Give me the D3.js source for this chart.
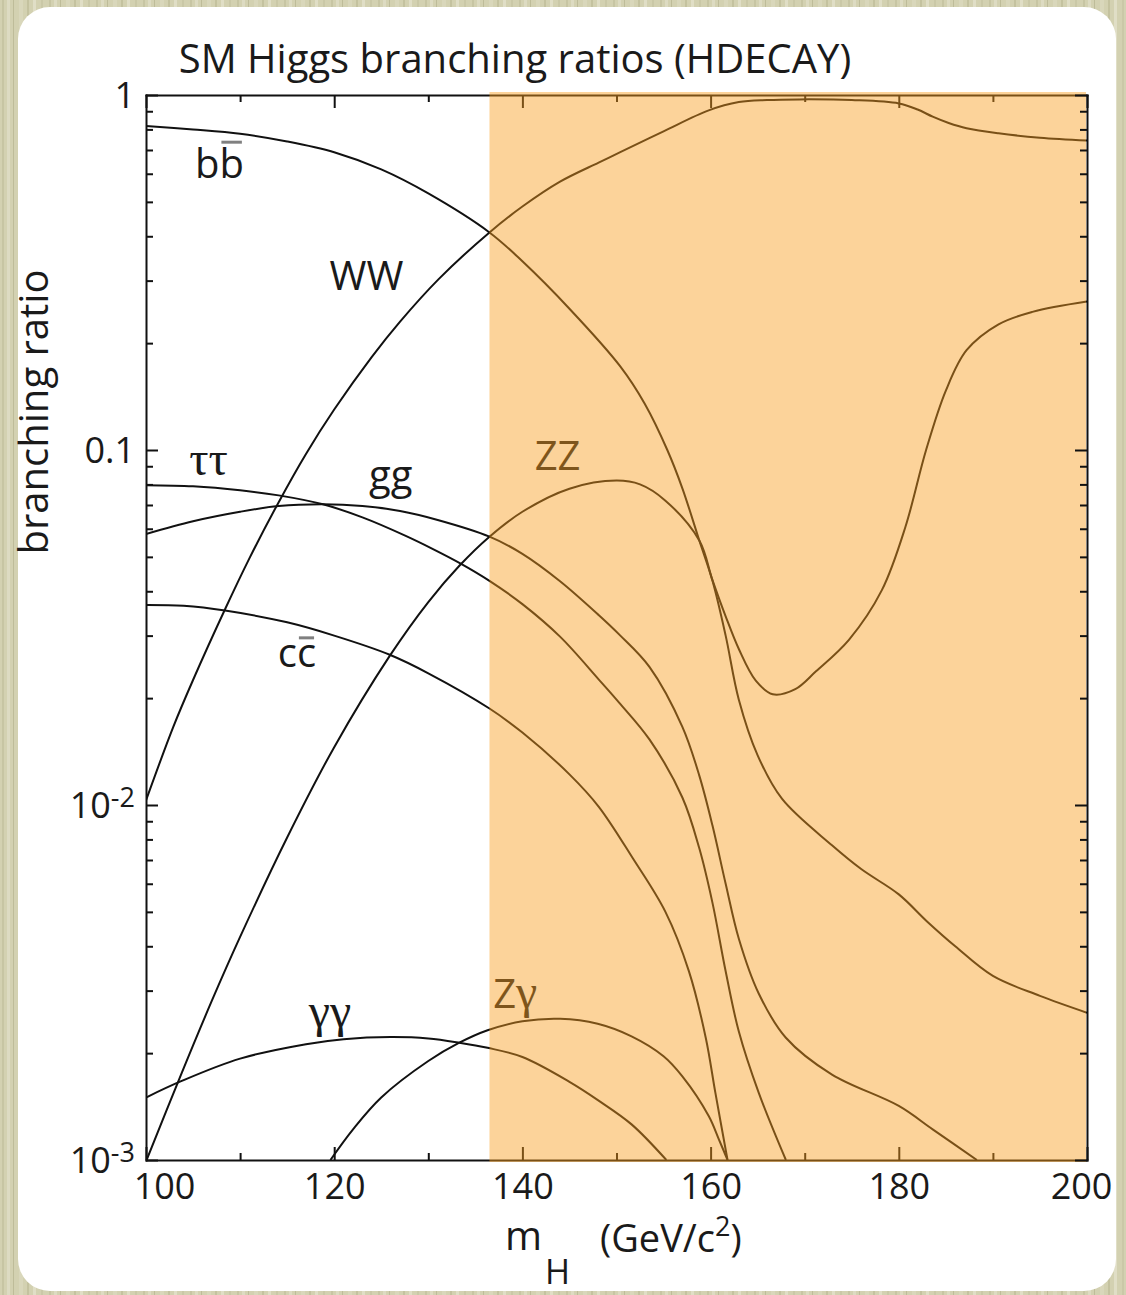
<!DOCTYPE html>
<html>
<head>
<meta charset="utf-8">
<script src="https://cdn.jsdelivr.net/npm/d3@7"></script>
<style>
  body { margin: 0; background: #d3d1b1; }
  svg { display: block; }
  text { font-family: "Open Sans", sans-serif; fill: #1a1a1a; }
</style>
</head>
<body>
<div id="chart"></div>
<script>
// branching ratios, [mH (GeV), BR]
const bb = [[100,0.818],[105,0.80],[110,0.778],[115,0.74],[120,0.69],[125,0.617],[130,0.528],[136.5,0.41],[140,0.34],[145,0.25],[150.4,0.172],[153,0.135],[155.4,0.10],[157,0.078],[158.8,0.0556],[160.2,0.0428],[161.6,0.030],[163,0.0198],[165,0.0138],[167.6,0.0104],[172.9,0.0077],[176,0.0066],[180,0.0056],[183,0.0047],[186,0.0040],[190,0.0033],[195,0.0029],[200,0.0026]];
const ww = [[100,0.0103],[102.9,0.0166],[105,0.0225],[108.4,0.0356],[111,0.0496],[114.1,0.0713],[117,0.0975],[120,0.130],[124,0.183],[127,0.230],[131.1,0.303],[136.5,0.41],[140,0.485],[144,0.57],[148.1,0.645],[150.4,0.69],[155,0.79],[159.8,0.905],[163,0.955],[166,0.968],[169.4,0.972],[175,0.968],[180,0.947],[182,0.91],[183.6,0.869],[185.3,0.834],[187.2,0.806],[190.6,0.78],[195,0.758],[200,0.744]];
const zz = [[100,0.00099],[103.8,0.00176],[107,0.00281],[110,0.00425],[115,0.0081],[120,0.01455],[125.9,0.0263],[130,0.0373],[133.3,0.0472],[136.5,0.057],[140,0.067],[145,0.0778],[150,0.082],[152.5,0.080],[155.2,0.072],[158.8,0.0556],[160.2,0.043],[161.6,0.034],[163,0.0275],[164.8,0.0224],[166.6,0.0205],[169,0.0212],[171.2,0.0238],[174.7,0.0292],[178.2,0.0403],[180.7,0.0607],[182.9,0.10],[185,0.147],[187.2,0.191],[190.6,0.226],[194.2,0.245],[200,0.262]];
const gg = [[100,0.058],[105,0.063],[110,0.067],[114.1,0.0695],[118.8,0.0703],[123,0.0695],[127,0.0673],[131,0.0635],[136.5,0.057],[140,0.051],[144,0.0427],[148.1,0.0343],[150.3,0.0302],[153.5,0.0245],[157,0.0166],[158.8,0.0121],[160.2,0.00875],[161.6,0.006],[163,0.0042],[165.1,0.00295],[168,0.00221],[172.9,0.00174],[180,0.00142],[183.6,0.00122],[188.3,0.001]];
const tautau = [[100,0.0796],[105,0.079],[110,0.077],[114.1,0.0745],[118.8,0.0703],[123,0.0646],[127.6,0.0573],[130.5,0.0526],[133.3,0.0481],[136.5,0.0428],[140,0.0368],[144,0.0298],[148.1,0.0226],[150.3,0.0194],[153.5,0.0153],[157,0.0105],[158.8,0.00755],[160.2,0.0053],[161.6,0.0034],[163,0.0023],[165.1,0.00155],[168,0.001]];
const cc = [[100,0.0366],[104,0.0364],[108.4,0.0353],[115,0.0327],[120,0.0300],[125.9,0.0265],[130,0.0235],[136.5,0.0187],[140,0.0160],[145,0.0122],[148.1,0.0099],[151.7,0.0071],[155.2,0.0050],[157.7,0.0034],[159.5,0.0022],[160.5,0.00155],[161.8,0.001]];
const gamgam = [[100,0.0015],[103.8,0.00167],[110,0.00193],[117,0.00212],[121,0.00219],[126,0.00222],[130,0.0022],[133.3,0.00214],[136.3,0.00207],[140,0.00195],[145,0.00166],[148.1,0.00147],[151.6,0.00126],[155.3,0.001]];
const zgam = [[119.6,0.001],[122,0.00122],[125,0.0015],[130,0.0019],[133.3,0.00214],[136.3,0.00232],[140,0.00246],[144,0.0025],[148,0.00242],[151.6,0.00223],[155,0.00196],[157,0.00172],[159.8,0.00133],[160.9,0.00114],[161.8,0.001]];

const series = [bb, ww, zz, gg, tautau, cc, gamgam, zgam];

// curve labels: text pieces [text, greek], anchor in data coords, overlined char index
const curveLabels = [
  {parts: [["bb", false]], m: 105.2, br: 0.583, bar: 1},
  {parts: [["WW", false]], m: 119.5, br: 0.282},
  {parts: [["ττ", true]], m: 104.6, br: 0.085},
  {parts: [["gg", false]], m: 123.7, br: 0.0775},
  {parts: [["cc", false]], m: 114.0, br: 0.0245, bar: 1},
  {parts: [["γγ", true]], m: 117.3, br: 0.00237},
  {parts: [["ZZ", false]], m: 141.3, br: 0.0878},
  {parts: [["Z", false], ["γ", true]], m: 136.9, br: 0.00268}
];

const xMajor = [100, 120, 140, 160, 180, 200];
const xMinor = [110, 130, 150, 170, 190];
const yMajor = [1e-3, 1e-2, 1e-1, 1];
const yTickText = {"0.001": ["10", "-3"], "0.01": ["10", "-2"], "0.1": ["0.1", null], "1": ["1", null]};
const excluded = [136.5, 200];  // shaded mass range

const W = 1126, H = 1295;
const svg = d3.select("#chart").append("svg").attr("width", W).attr("height", H);

// paper background
const defs = svg.append("defs");
const pat = defs.append("pattern").attr("id", "paper")
  .attr("width", 47).attr("height", H).attr("patternUnits", "userSpaceOnUse");
pat.append("rect").attr("width", 47).attr("height", H).attr("fill", "#d3d1b1");
[[2,2,"#c7c5a3"],[7,3,"#dddbc2"],[13,1,"#bebc99"],[19,4,"#d9d7bb"],[27,2,"#c4c29f"],[33,3,"#e0dec6"],[41,2,"#cac8a7"]]
  .forEach(s => pat.append("rect").attr("x", s[0]).attr("width", s[1]).attr("height", H).attr("fill", s[2]));
svg.append("rect").attr("width", W).attr("height", H).attr("fill", "url(#paper)");
svg.append("rect").attr("x", 18).attr("y", 7).attr("width", 1098).attr("height", 1284)
  .attr("rx", 32).attr("fill", "#fff");

const x = d3.scaleLinear().domain([100, 200]).range([146, 1087]);
const y = d3.scaleLog().domain([1e-3, 1]).range([1160, 95]);

defs.append("clipPath").attr("id", "plot").append("rect")
  .attr("x", x(100)).attr("y", y(1)).attr("width", x(200) - x(100)).attr("height", y(1e-3) - y(1));

const line = d3.line().x(d => x(d[0])).y(d => y(d[1])).curve(d3.curveCatmullRom.alpha(0.5));

svg.append("g").attr("clip-path", "url(#plot)")
  .selectAll("path").data(series).join("path")
  .attr("d", line).attr("fill", "none").attr("stroke", "#111").attr("stroke-width", 2);

// curve labels
curveLabels.forEach(l => {
  const t = svg.append("text").attr("x", x(l.m)).attr("y", y(l.br)).attr("font-size", 40);
  l.parts.forEach(p => {
    const s = t.append("tspan").text(p[0]);
    if (p[1]) s.attr("font-size", 48).style("font-family", "'Liberation Serif', serif");
  });
  if (l.bar !== undefined) {
    const node = t.node();
    const x0 = node.getStartPositionOfChar(l.bar).x + 2;
    const x1 = node.getEndPositionOfChar(l.bar).x - 2;
    const tall = "bdfhklt".includes(node.textContent[l.bar]);
    const yy = y(l.br) - (tall ? 36 : 29);
    svg.append("line").attr("x1", x0).attr("x2", x1).attr("y1", yy).attr("y2", yy)
      .attr("stroke", "#808080").attr("stroke-width", 3);
  }
});

function styleAxis(g) {
  g.selectAll("path, line").attr("stroke", "#111").attr("stroke-width", 2);
  g.select(".domain").attr("stroke-linecap", "square");
}

// bottom axis
const gx = svg.append("g").attr("transform", `translate(0,${y(1e-3)})`)
  .call(d3.axisBottom(x).tickValues(xMajor).tickSizeInner(-13).tickSizeOuter(0).tickPadding(13))
  .call(styleAxis);
gx.selectAll("text").attr("font-size", 36).attr("font-family", "'Open Sans', sans-serif").attr("fill", "#1a1a1a")
  .attr("dx", d => d === 100 ? 18 : d === 200 ? -6 : 0);
svg.append("g").attr("transform", `translate(0,${y(1e-3)})`)
  .call(d3.axisBottom(x).tickValues(xMinor).tickSizeInner(-7).tickSizeOuter(0).tickFormat(""))
  .call(styleAxis).select(".domain").remove();

// top axis
svg.append("g").attr("transform", `translate(0,${y(1)})`)
  .call(d3.axisTop(x).tickValues(xMajor).tickSizeInner(-13).tickSizeOuter(0).tickFormat(""))
  .call(styleAxis);
svg.append("g").attr("transform", `translate(0,${y(1)})`)
  .call(d3.axisTop(x).tickValues(xMinor).tickSizeInner(-7).tickSizeOuter(0).tickFormat(""))
  .call(styleAxis).select(".domain").remove();

const yMinor = [];
[1e-3, 1e-2, 1e-1].forEach(dec => d3.range(2, 10).forEach(k => yMinor.push(dec * k)));

// left axis
const gy = svg.append("g").attr("transform", `translate(${x(100)},0)`)
  .call(d3.axisLeft(y).tickValues(yMajor).tickSizeInner(-12).tickSizeOuter(0).tickPadding(11).tickFormat(""))
  .call(styleAxis);
gy.selectAll(".tick text").each(function(d) {
  const lab = yTickText[String(d)];
  const t = d3.select(this).attr("font-size", 36).attr("fill", "#1a1a1a")
    .attr("font-family", "'Open Sans', sans-serif").attr("dy", "0.34em");
  t.append("tspan").text(lab[0]);
  if (lab[1]) t.append("tspan").attr("font-size", 27).attr("dy", -11).text(lab[1]);
});
svg.append("g").attr("transform", `translate(${x(100)},0)`)
  .call(d3.axisLeft(y).tickValues(yMinor).tickSizeInner(-7).tickSizeOuter(0).tickFormat(""))
  .call(styleAxis).select(".domain").remove();

// shaded excluded region (drawn over curves so they turn brown)
svg.append("rect")
  .attr("x", x(excluded[0])).attr("y", y(1) - 3)
  .attr("width", x(excluded[1]) - x(excluded[0]) - 1).attr("height", y(1e-3) - y(1) + 5)
  .attr("fill", "rgb(248,158,30)").attr("fill-opacity", 0.45);

// right axis on top of the shading
svg.append("g").attr("transform", `translate(${x(200)},0)`)
  .call(d3.axisRight(y).tickValues(yMajor).tickSizeInner(-12).tickSizeOuter(0).tickFormat(""))
  .call(styleAxis);
svg.append("g").attr("transform", `translate(${x(200)},0)`)
  .call(d3.axisRight(y).tickValues(yMinor).tickSizeInner(-7).tickSizeOuter(0).tickFormat(""))
  .call(styleAxis).select(".domain").remove();

// title and axis titles
svg.append("text").attr("x", 515).attr("y", 73).attr("text-anchor", "middle")
  .attr("font-size", 40).text("SM Higgs branching ratios (HDECAY)");

svg.append("text").attr("transform", "translate(48,412) rotate(-90)")
  .attr("text-anchor", "middle").attr("font-size", 40).text("branching ratio");

svg.append("text").attr("x", 505).attr("y", 1250).attr("font-size", 40).text("m");
svg.append("text").attr("x", 545).attr("y", 1284).attr("font-size", 34).text("H");
const unit = svg.append("text").attr("x", 600).attr("y", 1252).attr("font-size", 38);
unit.append("tspan").text("(GeV/c");
unit.append("tspan").attr("font-size", 27).attr("dy", -16).text("2");
unit.append("tspan").attr("dy", 16).text(")");
</script>
</body>
</html>
